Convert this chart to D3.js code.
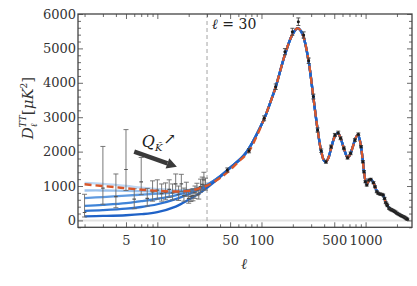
<!DOCTYPE html>
<html>
<head>
<meta charset="utf-8">
<script src="https://cdn.jsdelivr.net/npm/d3@7"></script>
<style>
  html, body { margin: 0; padding: 0; background: #fff; }
  svg { display: block; font-family: "DejaVu Serif", serif; }
</style>
</head>
<body>
<div id="chart"></div>
<script>
// ---- data ----
// best-fit (LCDM) spectrum, drawn red dashed
const theoryEll = [2, 3, 4, 5, 7, 10, 15, 20, 25, 30, 40, 47, 60, 76, 90, 106, 120, 137, 168, 198, 222, 240, 254, 284, 315, 346, 375, 400, 416, 440, 465, 507, 540, 575, 619, 671, 700, 750, 790, 830, 852, 880, 904, 942, 965, 995, 1026, 1073, 1120, 1190, 1280, 1370, 1430, 1475, 1560, 1680, 1850, 2060, 2310, 2520];
const theoryD   = [1050, 1000, 965, 935, 895, 860, 840, 860, 925, 1010, 1230, 1400, 1700, 2020, 2450, 2950, 3380, 3880, 4820, 5400, 5590, 5500, 5330, 4620, 3580, 2640, 2000, 1730, 1700, 1820, 2080, 2450, 2540, 2400, 2090, 1830, 1880, 2120, 2340, 2470, 2460, 2330, 2140, 1720, 1420, 1160, 1050, 1150, 1190, 1090, 860, 770, 760, 730, 530, 370, 280, 185, 105, 40];

// family of modified low-ell curves (light -> dark blue)
const familyEll = [2, 3, 5, 7, 10, 15, 20, 25, 30, 40, 50, 70, 106];
const family = [
  [1090, 1060, 1000, 950, 910, 880, 890, 945, 1030, 1270, 1520, 1930, 2950],
  [870, 870, 860, 850, 845, 850, 880, 945, 1035, 1275, 1525, 1935, 2950],
  [650, 680, 720, 750, 780, 815, 870, 940, 1035, 1280, 1530, 1940, 2950],
  [420, 450, 500, 560, 630, 730, 835, 925, 1030, 1285, 1535, 1945, 2950],
  [280, 300, 340, 390, 470, 620, 765, 890, 1010, 1280, 1535, 1945, 2950],
  [120, 130, 150, 180, 240, 400, 600, 780, 950, 1260, 1525, 1940, 2950]
];
const familyColors = ['#b3d0f1', '#8ab7ea', '#5f9ae0', '#3f84d8', '#2d72d0', '#1f62c7'];

// low-ell data points with asymmetric errors
const lowEll = [2, 3, 4, 5, 6, 7, 8, 9, 10, 11, 12, 13, 14, 15, 16, 17, 18, 19, 20, 21, 22, 23, 24, 25, 26, 27, 28, 29];
const lowD   = [230, 940, 690, 1480, 620, 1120, 640, 830, 880, 780, 820, 900, 800, 1060, 760, 1060, 720, 880, 640, 700, 720, 800, 880, 760, 980, 1050, 1180, 1030];
const lowLo  = [100, 470, 370, 870, 340, 750, 420, 560, 620, 560, 600, 670, 600, 820, 580, 840, 560, 700, 500, 550, 570, 640, 720, 620, 820, 880, 1000, 880];
const lowHi  = [760, 2150, 1350, 2640, 920, 1830, 930, 1150, 1180, 1060, 1090, 1180, 1060, 1350, 1000, 1340, 940, 1110, 840, 900, 920, 1000, 1080, 950, 1200, 1260, 1400, 1230];

// binned high-ell data
const hiEll = [47, 76, 106, 137, 168, 198, 226, 254, 284, 315, 346, 375, 416, 465, 507, 546, 575, 619, 671, 718, 790, 852, 904, 942, 965, 995, 1026, 1073, 1120, 1190, 1230, 1280, 1320, 1370, 1420, 1475, 1520, 1560, 1600, 1620, 1680, 1720, 1760, 1800, 1850, 1900, 1950, 2000, 2060, 2120, 2180, 2240, 2310, 2370, 2420, 2470, 2520];
const hiD   = [1465, 2026, 2968, 3886, 4904, 5485, 5776, 5390, 4640, 3600, 2628, 2026, 1706, 2143, 2483, 2550, 2387, 2096, 1823, 1950, 2337, 2503, 2143, 1706, 1416, 1125, 1029, 1174, 1195, 1096, 980, 834, 790, 767, 760, 738, 640, 515, 470, 430, 352, 330, 310, 300, 282, 262, 240, 210, 186, 165, 140, 125, 108, 90, 70, 50, 32];
const hiErr = [60, 60, 70, 80, 90, 100, 110, 90, 80, 70, 60, 50, 45, 45, 45, 45, 40, 40, 40, 40, 40, 40, 35, 35, 35, 30, 30, 30, 30, 30, 30, 30, 30, 30, 30, 30, 30, 30, 30, 30, 30, 30, 30, 30, 30, 30, 30, 30, 30, 30, 30, 30, 30, 30, 30, 30, 30];

const xMajor = [5, 10, 50, 100, 500, 1000];
const xMinor = [2, 3, 4, 6, 7, 8, 9, 20, 30, 40, 60, 70, 80, 90, 200, 300, 400, 600, 700, 800, 900, 2000];
const yMajor = [0, 1000, 2000, 3000, 4000, 5000, 6000];
const yMinor = d3.range(-200, 6001, 200).filter(v => v % 1000 !== 0);

const ellCut = 30;

// ---- layout ----
const W = 417, H = 286;
const mLeft = 78, mRight = 412, mTop = 14, mBottom = 227.3;

const svg = d3.select('#chart').append('svg')
  .attr('width', W).attr('height', H);

const x = d3.scaleLog().domain([1.73, 2790]).range([mLeft, mRight]);
const y = d3.scaleLinear().domain([-200, 6000]).range([mBottom, mTop]);

svg.append('clipPath').attr('id', 'plotclip')
  .append('rect').attr('x', mLeft).attr('y', mTop)
  .attr('width', mRight - mLeft).attr('height', mBottom - mTop);

const plot = svg.append('g').attr('clip-path', 'url(#plotclip)');

// zero line
plot.append('line')
  .attr('x1', mLeft).attr('x2', mRight)
  .attr('y1', y(0)).attr('y2', y(0))
  .attr('stroke', '#e2e2e2').attr('stroke-width', 2);

// ell = 30 marker
plot.append('line')
  .attr('x1', x(ellCut)).attr('x2', x(ellCut))
  .attr('y1', mTop).attr('y2', mBottom)
  .attr('stroke', '#9a9a9a').attr('stroke-width', 0.9)
  .attr('stroke-dasharray', '4,3');

const line = d3.line()
  .x(d => x(d[0])).y(d => y(d[1]))
  .curve(d3.curveCatmullRom.alpha(0.5));

// blue family: own low-ell part, then the shared spectrum
family.forEach((vals, i) => {
  const pts = familyEll.map((l, j) => [l, vals[j]]);
  theoryEll.forEach((l, j) => { if (l > 106) pts.push([l, theoryD[j]]); });
  plot.append('path')
    .attr('d', line(pts))
    .attr('fill', 'none')
    .attr('stroke', familyColors[i])
    .attr('stroke-width', 2.3)
    .attr('opacity', i < 2 ? 0.85 : 1);
});

// low-ell error bars
const lowG = plot.append('g').attr('stroke', '#6a6a6a').attr('stroke-width', 0.9);
lowEll.forEach((l, i) => {
  const cx = x(l);
  lowG.append('line').attr('x1', cx).attr('x2', cx).attr('y1', y(lowLo[i])).attr('y2', y(lowHi[i]));
  [lowLo[i], lowHi[i]].forEach(v => {
    lowG.append('line').attr('x1', cx - 2.5).attr('x2', cx + 2.5).attr('y1', y(v)).attr('y2', y(v));
  });
  lowG.append('line').attr('x1', cx - 1.8).attr('x2', cx + 1.8).attr('y1', y(lowD[i])).attr('y2', y(lowD[i]))
    .attr('stroke', '#555').attr('stroke-width', 1.2);
});

// best fit, red dashed
plot.append('path')
  .attr('d', line(theoryEll.map((l, i) => [l, theoryD[i]])))
  .attr('fill', 'none')
  .attr('stroke', '#d9572a')
  .attr('stroke-width', 2.4)
  .attr('stroke-dasharray', '7,4');

// high-ell binned points
const hiG = plot.append('g');
hiEll.forEach((l, i) => {
  const cx = x(l);
  const g = hiG.append('g').attr('stroke', '#444').attr('stroke-width', 0.9);
  g.append('line').attr('x1', cx).attr('x2', cx).attr('y1', y(hiD[i] - hiErr[i])).attr('y2', y(hiD[i] + hiErr[i]));
  [hiD[i] - hiErr[i], hiD[i] + hiErr[i]].forEach(v => {
    g.append('line').attr('x1', cx - 2).attr('x2', cx + 2).attr('y1', y(v)).attr('y2', y(v));
  });
  hiG.append('circle').attr('cx', cx).attr('cy', y(hiD[i])).attr('r', 1.5).attr('fill', '#1a1a1a');
});

// ---- frame and ticks ----
const frameColor = '#444';
svg.append('rect')
  .attr('x', mLeft).attr('y', mTop)
  .attr('width', mRight - mLeft).attr('height', mBottom - mTop)
  .attr('fill', 'none').attr('stroke', frameColor).attr('stroke-width', 1.3);

function styleAxis(g) {
  g.select('.domain').remove();
  g.selectAll('.tick line').attr('stroke', frameColor).attr('stroke-width', 0.8);
  g.selectAll('.tick text').attr('fill', '#333').attr('font-size', 13)
    .attr('font-family', '"DejaVu Serif", serif');
}

svg.append('g').attr('transform', `translate(0,${mBottom})`)
  .call(d3.axisBottom(x).tickValues(xMajor).tickSize(-5).tickPadding(8).tickFormat(d3.format('d')))
  .call(styleAxis);
svg.append('g').attr('transform', `translate(0,${mBottom})`)
  .call(d3.axisBottom(x).tickValues(xMinor).tickSize(-3).tickFormat(''))
  .call(styleAxis);
svg.append('g').attr('transform', `translate(0,${mTop})`)
  .call(d3.axisTop(x).tickValues(xMajor).tickSize(-5).tickFormat(''))
  .call(styleAxis);
svg.append('g').attr('transform', `translate(0,${mTop})`)
  .call(d3.axisTop(x).tickValues(xMinor).tickSize(-3).tickFormat(''))
  .call(styleAxis);

svg.append('g').attr('transform', `translate(${mLeft},0)`)
  .call(d3.axisLeft(y).tickValues(yMajor).tickSize(-5).tickPadding(2).tickFormat(d3.format('d')))
  .call(styleAxis);
svg.append('g').attr('transform', `translate(${mLeft},0)`)
  .call(d3.axisLeft(y).tickValues(yMinor).tickSize(-3).tickFormat(''))
  .call(styleAxis);
svg.append('g').attr('transform', `translate(${mRight},0)`)
  .call(d3.axisRight(y).tickValues(yMajor).tickSize(-5).tickFormat(''))
  .call(styleAxis);
svg.append('g').attr('transform', `translate(${mRight},0)`)
  .call(d3.axisRight(y).tickValues(yMinor).tickSize(-3).tickFormat(''))
  .call(styleAxis);

// ---- labels ----
svg.append('text')
  .attr('x', 244).attr('y', 269)
  .attr('text-anchor', 'middle')
  .attr('font-size', 15).attr('font-style', 'italic').attr('fill', '#333')
  .text('ℓ');

const yl = svg.append('text')
  .attr('transform', 'translate(33,108) rotate(-90)')
  .attr('text-anchor', 'middle')
  .attr('font-size', 15).attr('fill', '#333');
yl.append('tspan').attr('font-style', 'italic').text('D');
yl.append('tspan').attr('font-size', 9).attr('font-style', 'italic').attr('dy', 4).text('ℓ');
yl.append('tspan').attr('font-size', 9).attr('font-style', 'italic').attr('dx', -4).attr('dy', -11).text('TT');
yl.append('tspan').attr('dy', 7).text('[');
yl.append('tspan').attr('font-style', 'italic').text('μK');
yl.append('tspan').attr('font-size', 9).attr('dy', -6).text('2');
yl.append('tspan').attr('dy', 6).text(']');

// ell = 30 tag
const tag = svg.append('text')
  .attr('x', x(33.5)).attr('y', y(5564))
  .attr('font-size', 14).attr('fill', '#222');
tag.append('tspan').attr('font-style', 'italic').text('ℓ');
tag.append('tspan').text(' = 30');

// Q arrow annotation
const a0 = [x(6.0), y(2000)], a1 = [x(15.4), y(1560)];
const ang = Math.atan2(a1[1] - a0[1], a1[0] - a0[0]);
const headLen = 10, headW = 5.5;
const base = [a1[0] - headLen * Math.cos(ang), a1[1] - headLen * Math.sin(ang)];
svg.append('line')
  .attr('x1', a0[0]).attr('y1', a0[1]).attr('x2', base[0]).attr('y2', base[1])
  .attr('stroke', '#3a3a3a').attr('stroke-width', 4.5);
svg.append('path')
  .attr('d', d3.line()([
    a1,
    [base[0] + headW * Math.sin(ang), base[1] - headW * Math.cos(ang)],
    [base[0] - headW * Math.sin(ang), base[1] + headW * Math.cos(ang)]
  ]) + 'Z')
  .attr('fill', '#3a3a3a');

const q = svg.append('text')
  .attr('x', x(7.1)).attr('y', y(2140))
  .attr('font-size', 16).attr('fill', '#222');
q.append('tspan').attr('font-style', 'italic').text('Q');
q.append('tspan').attr('font-size', 10).attr('font-style', 'italic').attr('dy', 4).text('K̃');
q.append('tspan').attr('font-size', 15).attr('dy', -7).attr('dx', 1).text('↗');
</script>
</body>
</html>
